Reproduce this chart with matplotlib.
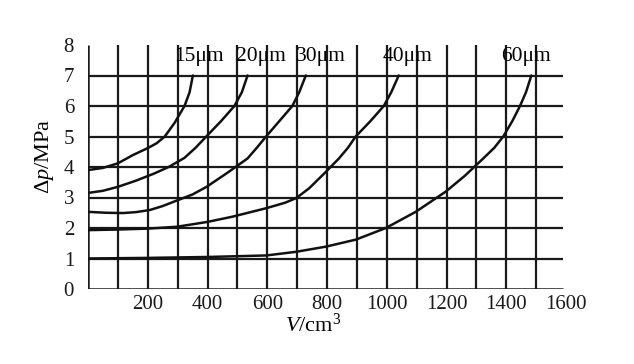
import matplotlib.pyplot as plt

plt.rcParams['font.family'] = ['Liberation Serif', 'DejaVu Serif']
plt.rcParams['mathtext.fontset'] = 'custom'
plt.rcParams['mathtext.rm'] = 'Liberation Serif'
plt.rcParams['mathtext.it'] = 'Liberation Serif:italic'

# curvas de pérdida de carga frente a volumen filtrado
v_15 = [0, 50, 100, 150, 200, 230, 257, 290, 323, 340, 351]
dp_15 = [3.9, 3.97, 4.12, 4.39, 4.62, 4.78, 5.0, 5.45, 6.0, 6.45, 7.0]

v_20 = [0, 50, 100, 160, 220, 270, 323, 360, 396, 445, 490, 515, 534]
dp_20 = [3.15, 3.22, 3.35, 3.55, 3.78, 4.0, 4.3, 4.63, 5.0, 5.5, 6.0, 6.45, 7.0]

v_30 = [0, 60, 117, 160, 207, 250, 297, 350, 397, 465, 534, 565, 596, 640, 684, 707, 729]
dp_30 = [2.53, 2.5, 2.49, 2.52, 2.59, 2.72, 2.9, 3.1, 3.35, 3.8, 4.28, 4.63, 5.0, 5.5, 6.0, 6.45, 7.0]

v_40 = [0, 100, 200, 297, 400, 483, 597, 660, 697, 740, 790, 840, 870, 896, 945, 990, 1015, 1040]
dp_40 = [1.93, 1.95, 1.98, 2.04, 2.2, 2.37, 2.65, 2.83, 2.98, 3.3, 3.78, 4.28, 4.63, 5.0, 5.5, 6.0, 6.45, 7.0]

v_60 = [0, 200, 400, 597, 697, 797, 897, 997, 1097, 1197, 1260, 1323, 1360, 1390, 1420, 1446, 1466, 1484]
dp_60 = [1.0, 1.02, 1.05, 1.1, 1.22, 1.39, 1.62, 2.0, 2.53, 3.19, 3.7, 4.28, 4.63, 5.0, 5.5, 6.0, 6.45, 7.0]

etiquetas = ['15μm', '20μm', '30μm', '40μm', '60μm']
x_etiquetas = [373, 580, 780, 1068, 1465]
y_etiqueta = 7.62

x_ticks = [200, 400, 600, 800, 1000, 1200, 1400, 1600]
y_ticks = [0, 1, 2, 3, 4, 5, 6, 7, 8]

fig = plt.figure(figsize=(6.34, 3.64), dpi=100)
ax = fig.add_axes([88 / 634, 75 / 364, 478 / 634, 244 / 364])

# rejilla: verticales cada 100 hasta 1500, horizontales cada 1 hasta 7
ax.vlines(range(100, 1600, 100), 0, 8, colors='#1a1a1a', linewidth=1.6)
ax.hlines(range(1, 8), 0, 1590, colors='#1a1a1a', linewidth=1.6)
ax.hlines(0, 0, 1590, colors='#1a1a1a', linewidth=1.8)
ax.vlines(0, 0, 8, colors='#1a1a1a', linewidth=1.8)

for v, dp in [(v_15, dp_15), (v_20, dp_20), (v_30, dp_30), (v_40, dp_40), (v_60, dp_60)]:
    ax.plot(v, dp, color='#111111', linewidth=1.8, solid_capstyle='round',
            solid_joinstyle='round')

for xe, txt in zip(x_etiquetas, etiquetas):
    ax.text(xe, y_etiqueta, txt, ha='center', va='center', fontsize=15.5)

ax.set_xlim(0, 1600)
ax.set_ylim(0, 8)
for s in ax.spines.values():
    s.set_visible(False)
ax.set_xticks(x_ticks)
ax.set_yticks(y_ticks)
ax.tick_params(length=0, labelsize=15, colors='#1a1a1a', pad=4)
ax.tick_params(axis='y', pad=10)

fig.text(313 / 634, 1 - 325 / 364, r'$V$/cm$^3$', ha='center', va='center', fontsize=16)
fig.text(45 / 634, 1 - 156 / 364, r'$\Delta p$/MPa', ha='center', va='center',
         fontsize=16, rotation=90)

plt.savefig('out.png', dpi=100)
plt.close(fig)
